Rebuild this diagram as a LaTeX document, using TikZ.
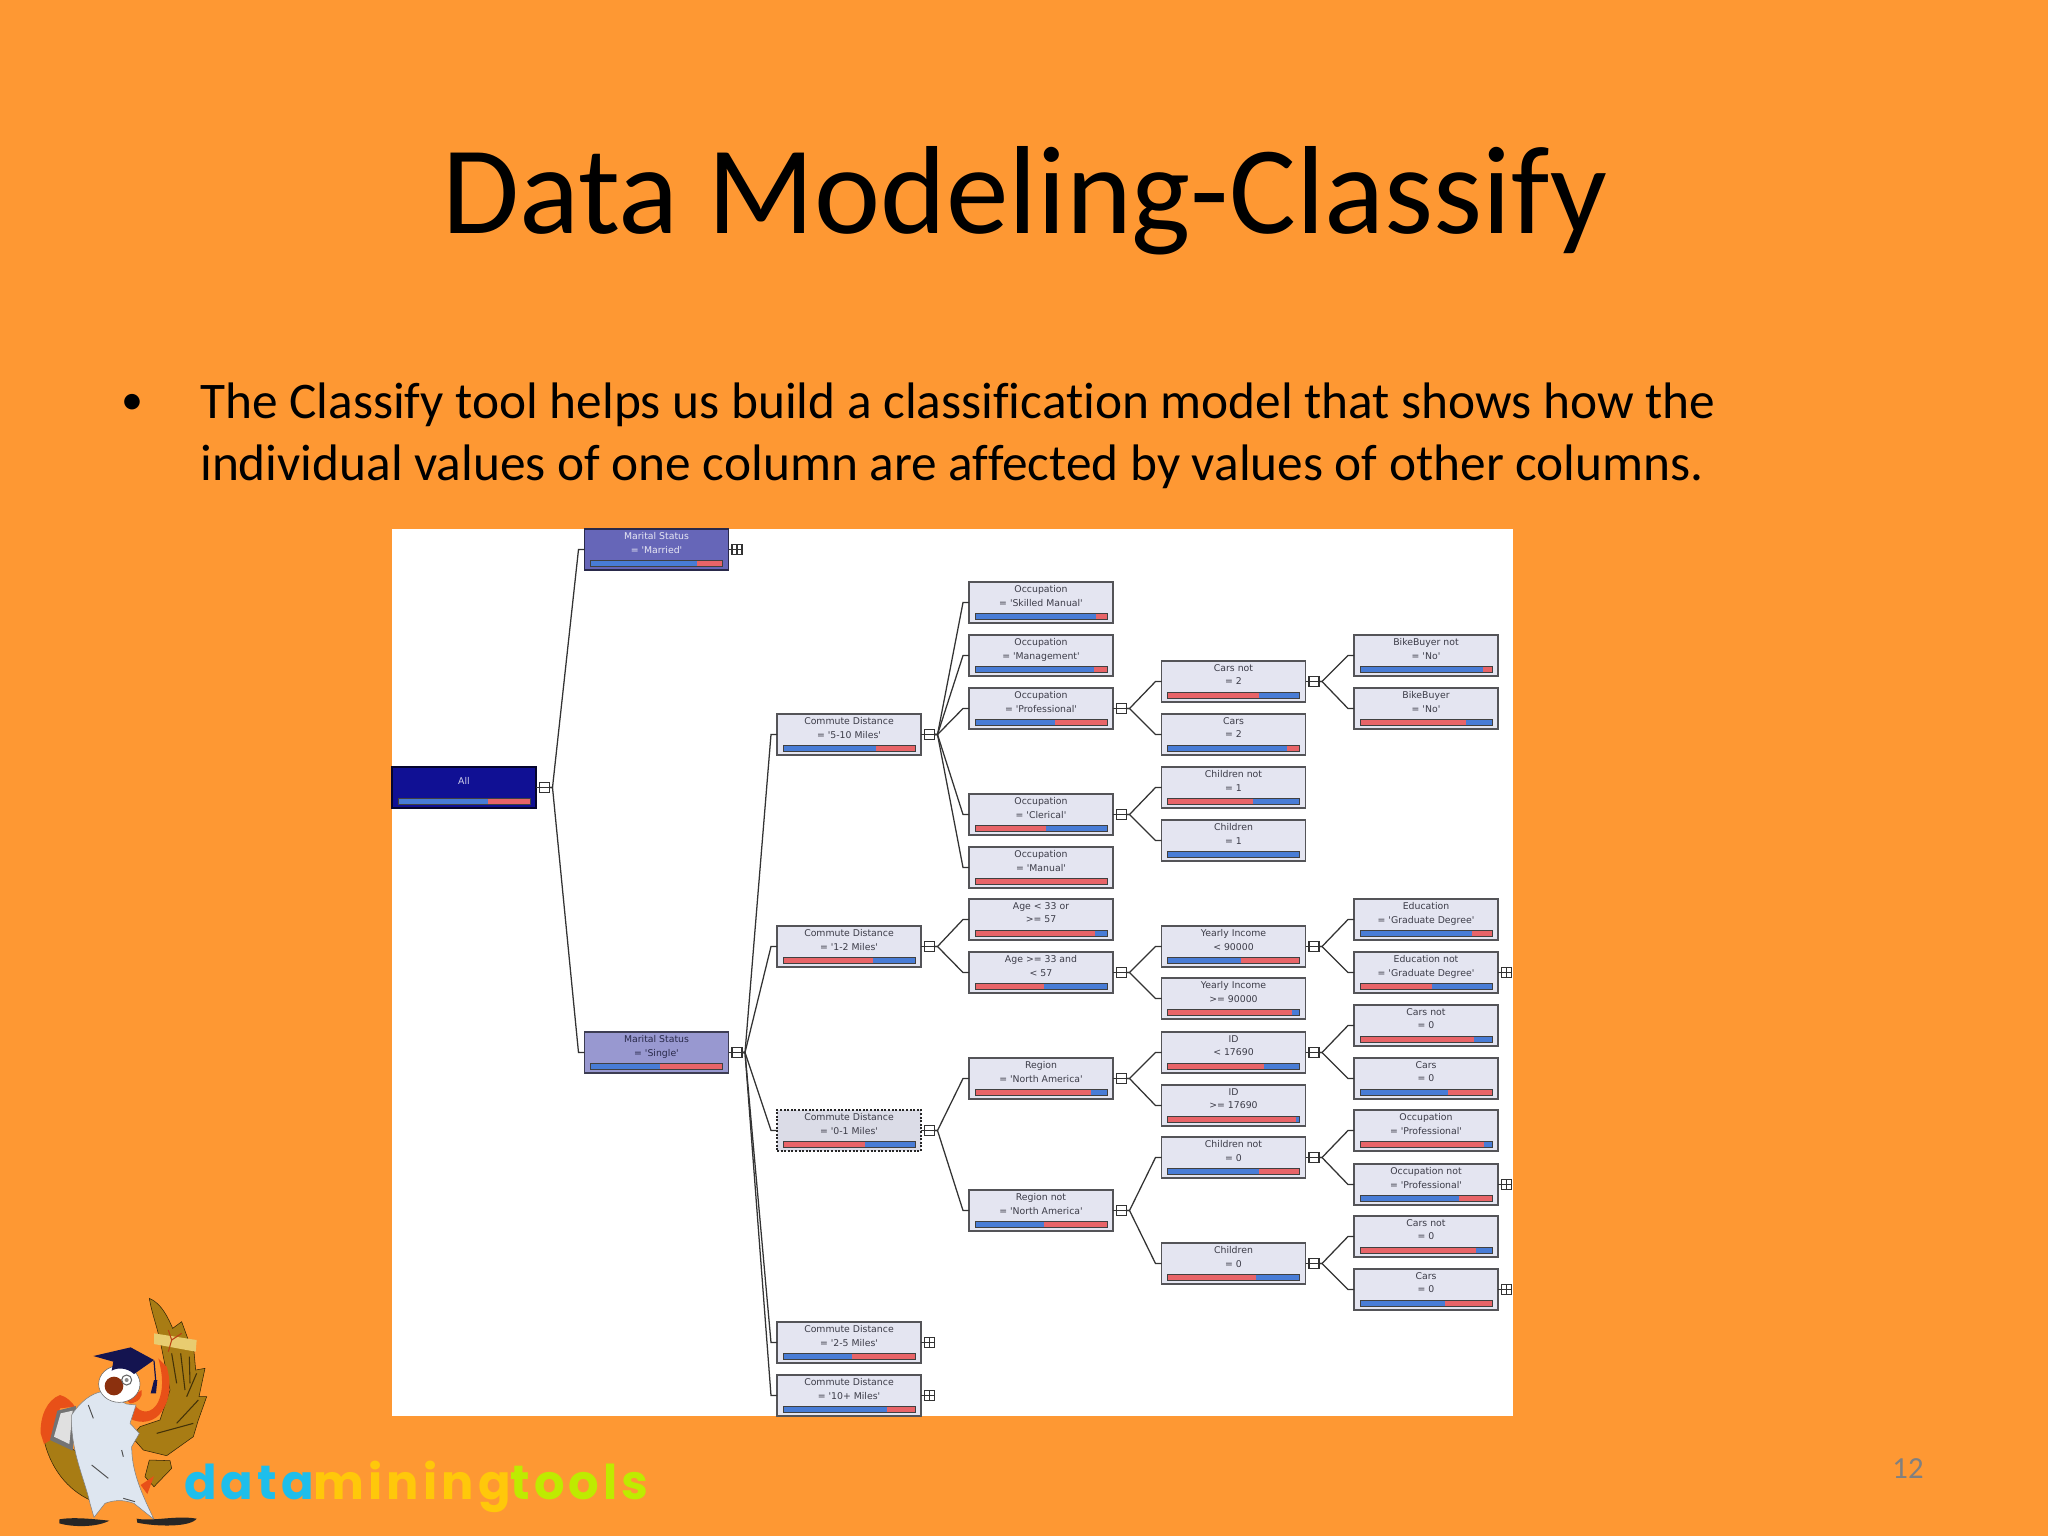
\documentclass[tikz,border=0pt]{standalone}
\usepackage{xcolor}
\usepackage{fontspec}
\setmainfont{Carlito}[Ligatures=CommonOff]
\newfontfamily\treefont{DejaVu Sans}
\newfontfamily\logofont{Poppins}[LetterSpace=8.5]
\usepackage{tikz}

\definecolor{slidebg}{RGB}{254,152,51}
\definecolor{boxfill}{RGB}{228,229,241}
\definecolor{boxedge}{RGB}{84,84,88}
\definecolor{treeink}{RGB}{60,60,72}
\definecolor{barblue}{RGB}{72,124,214}
\definecolor{barred}{RGB}{232,100,104}
\definecolor{allfill}{RGB}{16,16,148}
\definecolor{marriedfill}{RGB}{102,102,184}
\definecolor{singlefill}{RGB}{152,152,208}
\definecolor{owlbrown}{RGB}{168,124,20}
\definecolor{owlred}{RGB}{232,80,24}
\definecolor{owlwhite}{RGB}{222,230,240}
\definecolor{owlcap}{RGB}{20,20,80}
\definecolor{owltie}{RGB}{232,204,112}
\definecolor{logocyan}{RGB}{30,190,235}
\definecolor{logoyellow}{RGB}{255,200,10}
\definecolor{logogreen}{RGB}{190,235,0}

\tikzset{
  treebox/.style={draw=boxedge,line width=1.3pt,fill=boxfill,text=treeink,anchor=north west,
    minimum width=108pt,minimum height=30.75pt,inner sep=0pt,outer sep=0pt,align=center,
    font=\treefont\fontsize{7}{10.3}\selectfont},
  btn/.style={draw=black!80,line width=1pt,minimum width=7.5pt,minimum height=7.5pt,inner sep=0pt,outer sep=0pt},
  minusbtn/.style={btn,path picture={\draw[black!80,line width=0.8pt] (path picture bounding box.west) -- (path picture bounding box.east);}},
  plusbtn/.style={btn,path picture={\draw[black!80,line width=0.8pt] (path picture bounding box.west) -- (path picture bounding box.east) (path picture bounding box.north) -- (path picture bounding box.south);}},
  treeline/.style={draw=black!80,line width=0.95pt},
}

% name of box, share of the left colour, left colour, right colour
\newcommand{\statbar}[4]{%
  \fill[#3] (#1.north west) ++(6,31) rectangle ++(132*#2,6);
  \fill[#4] (#1.north east) ++(-6,31) rectangle ++(-132+132*#2,6);
  \draw[black!75,line width=0.6pt] (#1.north west) ++(6,31) rectangle ++(132,6);
}
% button, child box
\newcommand{\treelink}[2]{%
  \draw[treeline] (#1.east) -- ++(3,0) -- ([xshift=-4.5pt]#2.west) -- (#2.west);
}

\begin{document}
\begin{tikzpicture}[x=0.75pt,y=0.75pt,yscale=-1,xscale=1]
\useasboundingbox (0,0) rectangle (2048,1536);
\path[fill=slidebg] (0,0) rectangle (2048,1536);
\path[fill=white] (392,529) rectangle (1513,1416);

% Text Node
\draw (1025,233) node [anchor=base,font=\fontsize{94}{94}\selectfont] (nTitle) {Data Modeling-Classify};
% Text Node
\draw (132,414) node [anchor=base,font=\fontsize{33}{33}\selectfont] (nBullet) {•};
% Text Node
\draw (200,418) node [anchor=base west,font=\fontsize{38.5}{38.5}\selectfont,inner sep=0pt] (nLineA) {The Classify tool helps us build a classification model that shows how the};
% Text Node
\draw (200,480) node [anchor=base west,font=\fontsize{38.5}{38.5}\selectfont,inner sep=0pt] (nLineB) {individual values of one column are affected by values of other columns.};
% Text Node
\draw (1908,1478) node [anchor=base,text=black!50,font=\fontsize{23}{23}\selectfont] (nPage) {12};

% Tree boxes
\draw (392,767) node [treebox,fill=allfill,draw=black!70!allfill,text=white!80!allfill] (nAll) {All\\ \mbox{}};
\draw (584.5,529) node [treebox,fill=marriedfill,draw=black!60!marriedfill,text=white!85!marriedfill] (nMarried) {Marital Status\\= 'Married'\\ \mbox{}};
\draw (584.5,1032) node [treebox,fill=singlefill,draw=black!60!singlefill,text=black!60!marriedfill] (nSingle) {Marital Status\\= 'Single'\\ \mbox{}};

\draw (777,714) node [treebox] (nFiveTen) {Commute Distance\\= '5-10 Miles'\\ \mbox{}};
\draw (777,926) node [treebox] (nOneTwo) {Commute Distance\\= '1-2 Miles'\\ \mbox{}};
\draw (777,1110) node [treebox,fill=boxfill!96!black,draw=black!85,dash pattern=on 1.5pt off 1.2pt,line width=1.9pt] (nZeroOne) {Commute Distance\\= '0-1 Miles'\\ \mbox{}};
\draw (777,1322) node [treebox] (nTwoFive) {Commute Distance\\= '2-5 Miles'\\ \mbox{}};
\draw (777,1375) node [treebox] (nTenPlus) {Commute Distance\\= '10+ Miles'\\ \mbox{}};

\draw (969,582) node [treebox] (nSkilled) {Occupation\\= 'Skilled Manual'\\ \mbox{}};
\draw (969,635) node [treebox] (nManagement) {Occupation\\= 'Management'\\ \mbox{}};
\draw (969,688) node [treebox] (nProfessional) {Occupation\\= 'Professional'\\ \mbox{}};
\draw (969,794) node [treebox] (nClerical) {Occupation\\= 'Clerical'\\ \mbox{}};
\draw (969,847) node [treebox] (nManual) {Occupation\\= 'Manual'\\ \mbox{}};
\draw (969,899) node [treebox] (nAgeOut) {Age < 33 or\\>= 57\\ \mbox{}};
\draw (969,952) node [treebox] (nAgeIn) {Age >= 33 and\\< 57\\ \mbox{}};
\draw (969,1058) node [treebox] (nRegion) {Region\\= 'North America'\\ \mbox{}};
\draw (969,1190) node [treebox] (nRegionNot) {Region not\\= 'North America'\\ \mbox{}};

\draw (1161.5,661) node [treebox] (nCarsNotTwo) {Cars not\\= 2\\ \mbox{}};
\draw (1161.5,714) node [treebox] (nCarsTwo) {Cars\\= 2\\ \mbox{}};
\draw (1161.5,767) node [treebox] (nKidsNotOne) {Children not\\= 1\\ \mbox{}};
\draw (1161.5,820) node [treebox] (nKidsOne) {Children\\= 1\\ \mbox{}};
\draw (1161.5,926) node [treebox] (nIncomeLow) {Yearly Income\\< 90000\\ \mbox{}};
\draw (1161.5,978) node [treebox] (nIncomeHigh) {Yearly Income\\>= 90000\\ \mbox{}};
\draw (1161.5,1032) node [treebox] (nIdLow) {ID\\< 17690\\ \mbox{}};
\draw (1161.5,1085) node [treebox] (nIdHigh) {ID\\>= 17690\\ \mbox{}};
\draw (1161.5,1137) node [treebox] (nKidsNotZero) {Children not\\= 0\\ \mbox{}};
\draw (1161.5,1243) node [treebox] (nKidsZero) {Children\\= 0\\ \mbox{}};

\draw (1354,635) node [treebox] (nBikeNot) {BikeBuyer not\\= 'No'\\ \mbox{}};
\draw (1354,688) node [treebox] (nBike) {BikeBuyer\\= 'No'\\ \mbox{}};
\draw (1354,899) node [treebox] (nEdu) {Education\\= 'Graduate Degree'\\ \mbox{}};
\draw (1354,952) node [treebox] (nEduNot) {Education not\\= 'Graduate Degree'\\ \mbox{}};
\draw (1354,1005) node [treebox] (nCarsNotA) {Cars not\\= 0\\ \mbox{}};
\draw (1354,1058) node [treebox] (nCarsA) {Cars\\= 0\\ \mbox{}};
\draw (1354,1110) node [treebox] (nOccPro) {Occupation\\= 'Professional'\\ \mbox{}};
\draw (1354,1164) node [treebox] (nOccNot) {Occupation not\\= 'Professional'\\ \mbox{}};
\draw (1354,1216) node [treebox] (nCarsNotB) {Cars not\\= 0\\ \mbox{}};
\draw (1354,1269) node [treebox] (nCarsB) {Cars\\= 0\\ \mbox{}};

% Bars
\statbar{nAll}{.684}{barblue}{barred}
\statbar{nMarried}{.81}{barblue}{barred}
\statbar{nSingle}{.524}{barblue}{barred}
\statbar{nFiveTen}{.708}{barblue}{barred}
\statbar{nOneTwo}{.68}{barred}{barblue}
\statbar{nZeroOne}{.62}{barred}{barblue}
\statbar{nTwoFive}{.526}{barblue}{barred}
\statbar{nTenPlus}{.79}{barblue}{barred}
\statbar{nSkilled}{.918}{barblue}{barred}
\statbar{nManagement}{.899}{barblue}{barred}
\statbar{nProfessional}{.604}{barblue}{barred}
\statbar{nClerical}{.534}{barred}{barblue}
\statbar{nManual}{1}{barred}{barblue}
\statbar{nAgeOut}{.91}{barred}{barblue}
\statbar{nAgeIn}{.526}{barred}{barblue}
\statbar{nRegion}{.875}{barred}{barblue}
\statbar{nRegionNot}{.52}{barblue}{barred}
\statbar{nCarsNotTwo}{.696}{barred}{barblue}
\statbar{nCarsTwo}{.904}{barblue}{barred}
\statbar{nKidsNotOne}{.645}{barred}{barblue}
\statbar{nKidsOne}{1}{barblue}{barred}
\statbar{nIncomeLow}{.56}{barblue}{barred}
\statbar{nIncomeHigh}{.94}{barred}{barblue}
\statbar{nIdLow}{.73}{barred}{barblue}
\statbar{nIdHigh}{.97}{barred}{barblue}
\statbar{nKidsNotZero}{.69}{barblue}{barred}
\statbar{nKidsZero}{.67}{barred}{barblue}
\statbar{nBikeNot}{.93}{barblue}{barred}
\statbar{nBike}{.80}{barred}{barblue}
\statbar{nEdu}{.85}{barblue}{barred}
\statbar{nEduNot}{.546}{barred}{barblue}
\statbar{nCarsNotA}{.867}{barred}{barblue}
\statbar{nCarsA}{.668}{barblue}{barred}
\statbar{nOccPro}{.937}{barred}{barblue}
\statbar{nOccNot}{.75}{barblue}{barred}
\statbar{nCarsNotB}{.88}{barred}{barblue}
\statbar{nCarsB}{.645}{barblue}{barred}

% Buttons
\draw (nAll.east) ++(8.5,0) node [minusbtn] (xAll) {};
\draw (nMarried.east) ++(8.5,0) node [plusbtn] (xMarried) {};
\draw (nSingle.east) ++(8.5,0) node [minusbtn] (xSingle) {};
\draw (nFiveTen.east) ++(8.5,0) node [minusbtn] (xFiveTen) {};
\draw (nOneTwo.east) ++(8.5,0) node [minusbtn] (xOneTwo) {};
\draw (nZeroOne.east) ++(8.5,0) node [minusbtn] (xZeroOne) {};
\draw (nTwoFive.east) ++(8.5,0) node [plusbtn] (xTwoFive) {};
\draw (nTenPlus.east) ++(8.5,0) node [plusbtn] (xTenPlus) {};
\draw (nProfessional.east) ++(8.5,0) node [minusbtn] (xProfessional) {};
\draw (nClerical.east) ++(8.5,0) node [minusbtn] (xClerical) {};
\draw (nAgeIn.east) ++(8.5,0) node [minusbtn] (xAgeIn) {};
\draw (nRegion.east) ++(8.5,0) node [minusbtn] (xRegion) {};
\draw (nRegionNot.east) ++(8.5,0) node [minusbtn] (xRegionNot) {};
\draw (nCarsNotTwo.east) ++(8.5,0) node [minusbtn] (xCarsNotTwo) {};
\draw (nIncomeLow.east) ++(8.5,0) node [minusbtn] (xIncomeLow) {};
\draw (nIdLow.east) ++(8.5,0) node [minusbtn] (xIdLow) {};
\draw (nKidsNotZero.east) ++(8.5,0) node [minusbtn] (xKidsNotZero) {};
\draw (nKidsZero.east) ++(8.5,0) node [minusbtn] (xKidsZero) {};
\draw (nEduNot.east) ++(8.5,0) node [plusbtn] (xEduNot) {};
\draw (nOccNot.east) ++(8.5,0) node [plusbtn] (xOccNot) {};
\draw (nCarsB.east) ++(8.5,0) node [plusbtn] (xCarsB) {};

% Stubs from box to button
\draw[treeline] (nAll.east) -- (xAll.west);
\draw[treeline] (nMarried.east) -- (xMarried.west);
\draw[treeline] (nSingle.east) -- (xSingle.west);
\draw[treeline] (nFiveTen.east) -- (xFiveTen.west);
\draw[treeline] (nOneTwo.east) -- (xOneTwo.west);
\draw[treeline] (nZeroOne.east) -- (xZeroOne.west);
\draw[treeline] (nTwoFive.east) -- (xTwoFive.west);
\draw[treeline] (nTenPlus.east) -- (xTenPlus.west);
\draw[treeline] (nProfessional.east) -- (xProfessional.west);
\draw[treeline] (nClerical.east) -- (xClerical.west);
\draw[treeline] (nAgeIn.east) -- (xAgeIn.west);
\draw[treeline] (nRegion.east) -- (xRegion.west);
\draw[treeline] (nRegionNot.east) -- (xRegionNot.west);
\draw[treeline] (nCarsNotTwo.east) -- (xCarsNotTwo.west);
\draw[treeline] (nIncomeLow.east) -- (xIncomeLow.west);
\draw[treeline] (nIdLow.east) -- (xIdLow.west);
\draw[treeline] (nKidsNotZero.east) -- (xKidsNotZero.west);
\draw[treeline] (nKidsZero.east) -- (xKidsZero.west);
\draw[treeline] (nEduNot.east) -- (xEduNot.west);
\draw[treeline] (nOccNot.east) -- (xOccNot.west);
\draw[treeline] (nCarsB.east) -- (xCarsB.west);

% Links from button to child
\treelink{xAll}{nMarried}
\treelink{xAll}{nSingle}
\treelink{xSingle}{nFiveTen}
\treelink{xSingle}{nOneTwo}
\treelink{xSingle}{nZeroOne}
\treelink{xSingle}{nTwoFive}
\treelink{xSingle}{nTenPlus}
\treelink{xFiveTen}{nSkilled}
\treelink{xFiveTen}{nManagement}
\treelink{xFiveTen}{nProfessional}
\treelink{xFiveTen}{nClerical}
\treelink{xFiveTen}{nManual}
\treelink{xOneTwo}{nAgeOut}
\treelink{xOneTwo}{nAgeIn}
\treelink{xZeroOne}{nRegion}
\treelink{xZeroOne}{nRegionNot}
\treelink{xProfessional}{nCarsNotTwo}
\treelink{xProfessional}{nCarsTwo}
\treelink{xClerical}{nKidsNotOne}
\treelink{xClerical}{nKidsOne}
\treelink{xAgeIn}{nIncomeLow}
\treelink{xAgeIn}{nIncomeHigh}
\treelink{xRegion}{nIdLow}
\treelink{xRegion}{nIdHigh}
\treelink{xRegionNot}{nKidsNotZero}
\treelink{xRegionNot}{nKidsZero}
\treelink{xCarsNotTwo}{nBikeNot}
\treelink{xCarsNotTwo}{nBike}
\treelink{xIncomeLow}{nEdu}
\treelink{xIncomeLow}{nEduNot}
\treelink{xIdLow}{nCarsNotA}
\treelink{xIdLow}{nCarsA}
\treelink{xKidsNotZero}{nOccPro}
\treelink{xKidsNotZero}{nOccNot}
\treelink{xKidsZero}{nCarsNotB}
\treelink{xKidsZero}{nCarsB}

% Owl, in the pixels of its own crop
\begin{scope}[shift={(30,1290)},x=0.25pt,y=0.25pt]
%back wing
\fill[owlbrown,draw=black!70!owlbrown] (42,450) .. controls (60,530) and (110,600) .. (185,632) -- (150,490) -- (60,440) -- cycle;
\fill[owlred] (32,430) .. controls (30,380) and (50,330) .. (90,315) .. controls (110,320) and (125,335) .. (135,350) -- (90,355) -- (62,450) -- (42,462) -- cycle;
%book
\fill[black!55] (60,450) -- (82,362) -- (138,348) -- (128,482) -- cycle;
\fill[black!12] (72,440) -- (92,370) -- (128,362) -- (118,462) -- cycle;
%tail
\fill[owlbrown,draw=black!70!owlbrown] (358,510) -- (420,512) -- (425,535) -- (372,590) -- (345,560) -- cycle;
\fill[owlred] (332,585) -- (372,558) -- (352,612) -- cycle;
%raised wing
\fill[owlbrown,draw=black!70!owlbrown] (358,25) .. controls (395,40) and (415,85) .. (428,115) -- (455,95) -- (475,150) -- (492,185) -- (497,240) -- (525,235) -- (507,320) -- (530,320) -- (505,390) -- (490,440) -- (410,497) -- (340,480) -- (305,440) -- (330,410) -- (390,390) -- (420,300) -- (395,175) .. controls (385,120) and (365,70) .. cycle;
\draw[black!60!owlbrown,line width=0.8pt] (425,190) -- (440,280) (452,190) -- (465,300) (478,200) -- (480,280) (500,250) -- (470,320) (505,330) -- (440,400) (490,400) -- (380,430);
%arm
\fill[owlred] (385,205) -- (410,230) .. controls (425,280) and (420,330) .. (395,365) .. controls (375,395) and (335,405) .. (298,385) -- (315,345) .. controls (330,370) and (365,375) .. (385,335) .. controls (400,300) and (400,260) .. cycle;
%body
\fill[owlwhite,draw=black!50] (125,375) .. controls (150,335) and (185,310) .. (215,305) -- (290,342) -- (318,345) -- (300,400) -- (328,430) -- (305,470) .. controls (305,550) and (340,620) .. (372,688) -- (312,640) .. controls (280,628) and (250,630) .. (225,640) -- (192,682) -- (180,640) .. controls (165,570) and (120,480) .. cycle;
\draw[black!70,line width=0.7pt] (175,345) -- (190,385) (185,525) -- (235,565) (280,625) -- (315,635) (275,480) -- (280,500);
%head
\fill[owlred] (335,300) .. controls (340,320) and (325,338) .. (300,340) -- (290,330) -- cycle;
\fill[white,draw=black!60] (268,282) ellipse (62 and 55);
\fill[black!40!owlred] (252,288) ellipse (28 and 28);
\fill[white,draw=black!60,line width=0.8pt] (290,270) circle (15);
\fill[black!45] (290,270) circle (6);
%cap
\fill[owlcap] (190,198) -- (302,172) -- (372,210) -- (312,252) .. controls (290,232) and (262,232) .. (245,242) -- (250,215) -- cycle;
\draw[owlcap,line width=0.9pt] (372,212) -- (377,270);
\fill[owlcap] (372,270) -- (382,270) -- (378,310) -- (362,310) -- cycle;
%tie
\fill[owltie] (372,130) -- (500,150) -- (497,185) -- (372,162) -- cycle;
\draw[owlred!80!black,line width=0.8pt] (415,120) -- (425,150) -- (415,185) (425,150) -- (455,130);
%feet
\fill[black!85] (88,688) .. controls (130,680) and (200,688) .. (238,692) .. controls (200,712) and (130,712) .. (88,700) -- cycle;
\fill[black!85] (320,686) .. controls (370,695) and (440,675) .. (500,686) .. controls (480,712) and (380,710) .. (322,698) -- cycle;
\end{scope}

% Text Node
\draw (184,1499) node [anchor=base west,inner sep=0pt,font=\logofont\bfseries\fontsize{36}{36}\selectfont] (nLogo) {\textcolor{logocyan}{data}\textcolor{logoyellow}{mining}\textcolor{logogreen}{tools}};

\end{tikzpicture}
\end{document}
